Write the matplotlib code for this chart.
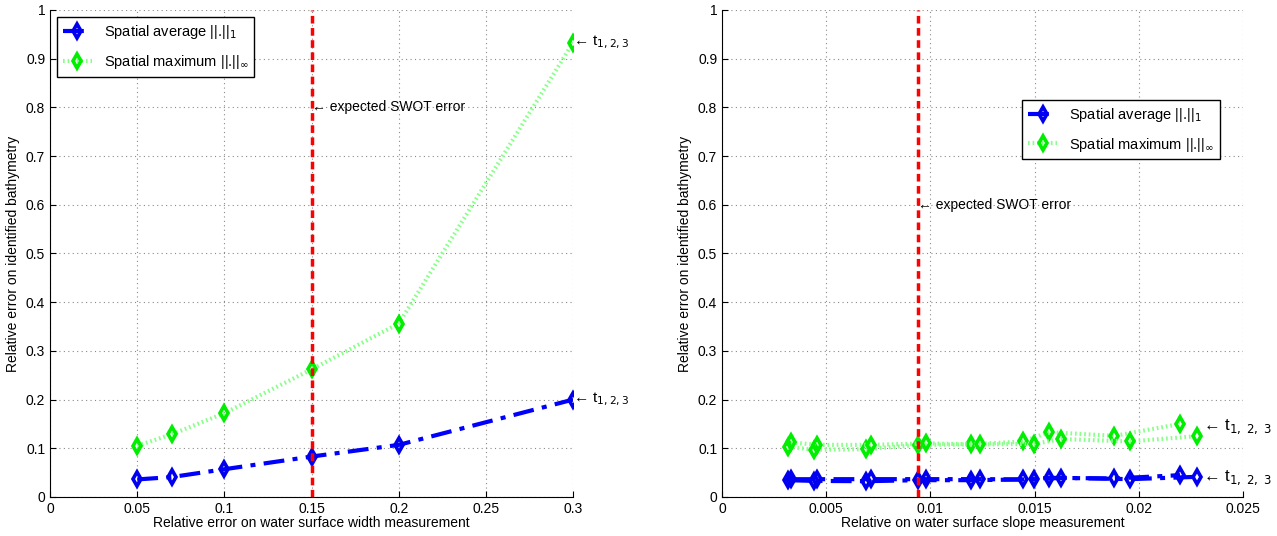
import matplotlib
matplotlib.use("Agg")
import matplotlib.pyplot as plt

plt.rcParams['font.family'] = ['Liberation Sans', 'DejaVu Sans']
plt.rcParams['mathtext.fontset'] = 'dejavusans'

# left panel: error vs. width measurement error
width_err = [0.05, 0.07, 0.1, 0.15, 0.2, 0.3]
width_avg = [0.036, 0.041, 0.057, 0.083, 0.107, 0.200]
width_max = [0.105, 0.129, 0.172, 0.262, 0.356, 0.933]

# right panel: error vs. slope measurement error (two interleaved runs)
slope_a = [0.00318, 0.00443, 0.0069, 0.00942, 0.01193, 0.01443, 0.01571, 0.01883, 0.02198]
slope_b = [0.00331, 0.00457, 0.00715, 0.00977, 0.01238, 0.01499, 0.01627, 0.01958, 0.02281]
slope_avg_a = [0.0345, 0.033, 0.0324, 0.0345, 0.0345, 0.0359, 0.0393, 0.038, 0.0448]
slope_avg_b = [0.0365, 0.0365, 0.0366, 0.0366, 0.0366, 0.0359, 0.0393, 0.0366, 0.0414]
slope_max_a = [0.103, 0.097, 0.098, 0.107, 0.108, 0.114, 0.133, 0.1255, 0.150]
slope_max_b = [0.112, 0.107, 0.107, 0.110, 0.108, 0.109, 0.119, 0.114, 0.125]

swot_width = 0.15
swot_slope = 0.00942

left_xticks = [0, 0.05, 0.1, 0.15, 0.2, 0.25, 0.3]
left_xlabels = ["0", "0.05", "0.1", "0.15", "0.2", "0.25", "0.3"]
right_xticks = [0, 0.005, 0.01, 0.015, 0.02, 0.025]
right_xlabels = ["0", "0.005", "0.01", "0.015", "0.02", "0.025"]
yticks = [i / 10 for i in range(11)]
ylabels = ["0", "0.1", "0.2", "0.3", "0.4", "0.5", "0.6", "0.7", "0.8", "0.9", "1"]

lab_avg = "Spatial average ||.||$_1$"
lab_max = "Spatial maximum ||.||$_\\infty$"

blue = dict(color='#0000ff', ls=(0, (5, 2, 1.2, 2)), lw=3, marker='d', ms=7.5, mfc='none',
            mew=2.6, mec='#0000ee')
green = dict(color='#88ff88', ls=(0, (0.4, 0.7)), lw=3, marker='d', ms=7.5, mfc='none',
             mew=2.6, mec='#00ee00')

fig = plt.figure(figsize=(12.77, 5.36), dpi=100)
ax1 = fig.add_axes([0.0392, 0.0728, 0.4096, 0.9086])
ax2 = fig.add_axes([0.5654, 0.0728, 0.408, 0.9086])


def style(ax, xticks, xlabels, xmax):
    ax.set_xlim(0, xmax)
    ax.set_ylim(0, 1)
    ax.set_xticks(xticks)
    ax.set_xticklabels(xlabels)
    ax.set_yticks(yticks)
    ax.set_yticklabels(ylabels)
    ax.grid(True, ls=(0, (1, 3)), color='#8a8a8a', lw=0.8)
    ax.spines['top'].set_visible(False)
    ax.spines['right'].set_visible(False)
    ax.tick_params(direction='in', labelsize=10, length=4)
    ax.set_ylabel("Relative error on identified bathymetry", fontsize=10, labelpad=4)


# left
ax1.plot(width_err, width_avg, label=lab_avg, **blue)
ax1.plot(width_err, width_max, label=lab_max, **green)
ax1.axvline(swot_width, color='red', ls=(0, (2.2, 1.3)), lw=2.5)
style(ax1, left_xticks, left_xlabels, 0.3)
ax1.set_xlabel("Relative error on water surface width measurement", fontsize=10, labelpad=0)
ax1.text(swot_width, 0.8, "\u2190 expected SWOT error", fontsize=10, va='center', ha='left')
ax1.text(0.3, width_max[-1], "\u2190 t$_{1,2,3}$", fontsize=11, va='center', ha='left')
ax1.text(0.3, width_avg[-1], "\u2190 t$_{1,2,3}$", fontsize=11, va='center', ha='left')
ax1.legend(loc='upper left', bbox_to_anchor=(0.013, 0.985), fontsize=10.5, fancybox=False,
           edgecolor='black', framealpha=1, handlelength=2, labelspacing=0.8, borderaxespad=0)

# right
ax2.plot(slope_a, slope_avg_a, label=lab_avg, **blue)
ax2.plot(slope_a, slope_max_a, label=lab_max, **green)
ax2.plot(slope_b, slope_avg_b, **blue)
ax2.plot(slope_b, slope_max_b, **green)
ax2.axvline(swot_slope, color='red', ls=(0, (2.2, 1.3)), lw=2.5)
style(ax2, right_xticks, right_xlabels, 0.025)
ax2.set_xlabel("Relative on water surface slope measurement", fontsize=10, labelpad=0)
ax2.text(swot_slope, 0.6, "\u2190 expected SWOT error", fontsize=10, va='center', ha='left')
ax2.text(0.0231, 0.144, "\u2190 t$_{1,\\ 2,\\ 3}$", fontsize=12, va='center', ha='left')
ax2.text(0.0231, 0.039, "\u2190 t$_{1,\\ 2,\\ 3}$", fontsize=12, va='center', ha='left')
ax2.legend(loc='upper left', bbox_to_anchor=(0.576, 0.815), fontsize=10.5, fancybox=False,
           edgecolor='black', framealpha=1, handlelength=2, labelspacing=0.8, borderaxespad=0)

fig.savefig("out.png", dpi=100)
